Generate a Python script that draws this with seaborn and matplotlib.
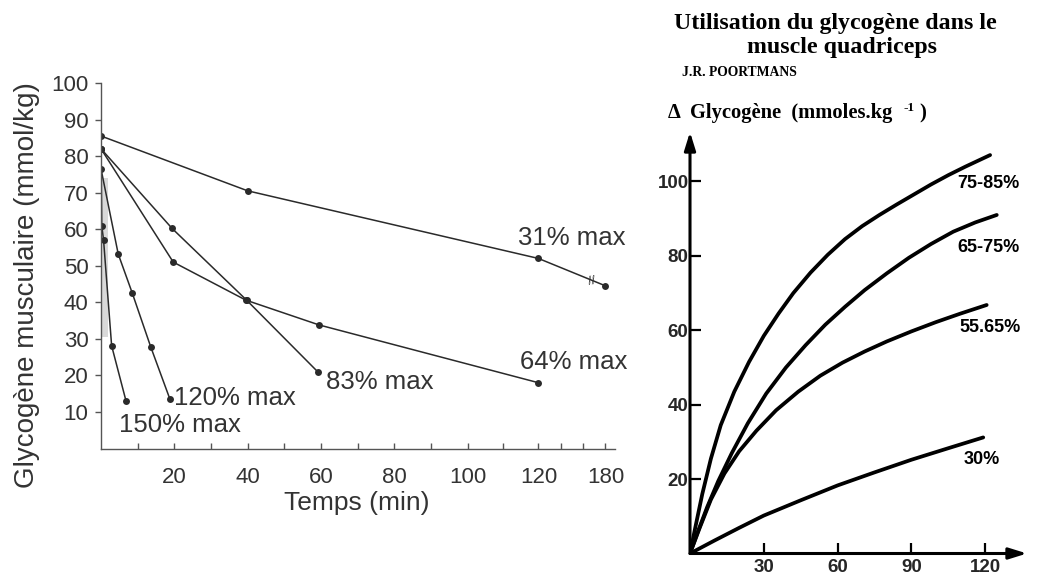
import numpy as np
import matplotlib
matplotlib.use("Agg")
import matplotlib.pyplot as plt
import seaborn as sns

# ---------------- Left panel data (time in min, glycogen mmol/kg) ----------------
t31 = [0, 40, 120, 180]
g31 = [85.5, 70.5, 52, 44.5]
t64 = [0, 19.7, 39.5, 59.5, 120]
g64 = [82, 51, 40.6, 33.8, 18]
t83 = [0, 19.4, 39.7, 59.3]
g83 = [82, 60.2, 40.6, 20.8]
t120 = [0, 4.7, 8.5, 13.6, 18.8]
g120 = [76.5, 53.2, 42.6, 27.7, 13.5]
t150 = [0, 0.2, 0.7, 2.9, 6.8]
g150 = [82, 61, 57, 28.1, 13.1]
left_labels = ["31% max", "64% max", "83% max", "120% max", "150% max"]
shade_t = [0, 1.9]
shade_lo = [30.5, 30.5]
shade_hi = [74, 74]
left_xticks = [20, 40, 60, 80, 100, 120, 180]
left_minor = [10, 30, 50, 70, 90, 110, 140, 160]
left_yticks = [10, 20, 30, 40, 50, 60, 70, 80, 90, 100]

# ---------------- Right panel data (time in min, delta glycogen) ----------------
tA = [0, 2, 5, 8.5, 12.5, 18, 24, 30, 36, 42, 49, 56, 63, 70, 77, 84, 91, 98, 105, 112, 122]
gA = [0, 6.5, 16, 25.5, 34.5, 43.5, 51.5, 58.5, 64.5, 70, 75.5, 80.3, 84.5, 88, 91, 93.8,
      96.5, 99.2, 101.7, 104, 107.1]
tB = [0, 3, 7, 11.5, 17, 23.5, 31, 39, 47, 55, 63, 71, 80, 89, 98, 107, 116, 124.7]
gB = [0, 5.5, 12.5, 19.5, 27, 35, 43, 50, 56, 61.5, 66.3, 70.8, 75.3, 79.5, 83.2, 86.5, 89, 91]
tC = [0, 4, 8.5, 14, 20, 27, 35, 44, 53, 62, 71, 80, 90, 100, 110, 120.6]
gC = [0, 7, 14.5, 21.5, 27.5, 33, 38.5, 43.5, 47.8, 51.3, 54.3, 57, 59.7, 62.2, 64.5, 66.8]
tD = [0, 10, 20, 30, 45, 60, 75, 90, 105, 119.2]
gD = [0, 3.5, 6.9, 10.2, 14.3, 18.3, 21.8, 25.2, 28.3, 31.2]
right_labels = ["75-85%", "65-75%", "55.65%", "30%"]
right_xticks = [30, 60, 90, 120]
right_yticks = [20, 40, 60, 80, 100]

sns.set_theme(style="white")
plt.rcParams["font.family"] = ["Liberation Sans", "DejaVu Sans"]

W, H = 1037, 577
fig = plt.figure(figsize=(W / 100, H / 100), dpi=100)
fig.patch.set_facecolor("white")


def ftext(x, y, s, **kw):
    fig.text(x / W, 1 - y / H, s, **kw)


def ax_rect(l, t, r, b):
    return [l / W, 1 - b / H, (r - l) / W, (b - t) / H]


# ---------------- Left panel ----------------
axL = fig.add_axes(ax_rect(101, 83, 615, 448.5))
knots_t = np.array([-100, 0, 105, 120, 180, 300])
knots_p = np.array([-100, 0, 105, 119.3, 137.6, 174.2])


def fwd(t):
    return np.interp(t, knots_t, knots_p)


def inv(p):
    return np.interp(p, knots_p, knots_t)


axL.set_xscale("function", functions=(fwd, inv))
ink = "#2a2a2a"
axL.fill_between(shade_t, shade_lo, shade_hi, color="#d9d9d9", lw=0)
for t, g in [(t31, g31), (t64, g64), (t83, g83), (t120, g120), (t150, g150)]:
    sns.lineplot(x=t, y=g, ax=axL, color=ink, lw=1.1, marker="o", markersize=5,
                 markeredgewidth=0, sort=False, estimator=None)
axL.set_xlim(0, 188.5)
axL.set_ylim(0, 100)
axL.set_xticks(left_xticks)
axL.set_xticklabels([str(v) for v in left_xticks])
axL.set_xticks(left_minor, minor=True)
axL.set_yticks(left_yticks)
axL.set_yticklabels([str(v) for v in left_yticks])
for s in ["top", "right"]:
    axL.spines[s].set_visible(False)
for s in ["left", "bottom"]:
    axL.spines[s].set_color("#555555")
    axL.spines[s].set_linewidth(1.0)
axL.tick_params(axis="x", which="both", direction="in", length=4, width=1,
                color="#555555", pad=13, labelsize=16, labelcolor="#333333", bottom=True)
axL.tick_params(axis="y", direction="out", length=4, width=1, color="#555555",
                pad=5, labelsize=16, labelcolor="#333333", left=True)
axL.set_xlabel("")
axL.set_ylabel("")
axL.grid(False)
axL.text(167.5, 45.6, "//", fontsize=9, color=ink, ha="center", va="center", rotation=10)

ftext(27, 285, "Glycogène musculaire (mmol/kg)", rotation=90, ha="center", va="center",
      fontsize=20, color="#333333")
ftext(357, 503, "Temps (min)", ha="center", va="center", fontsize=19, color="#333333")
left_pos = [(572, 238), (574, 362), (380, 382), (235, 398), (180, 425)]
for lab, (x, y) in zip(left_labels, left_pos):
    ftext(x, y, lab, ha="center", va="center", fontsize=18.5, color="#333333")

# ---------------- Right panel ----------------
axR = fig.add_axes(ax_rect(690, 132, 1027, 553.5))
for t, g in [(tA, gA), (tB, gB), (tC, gC), (tD, gD)]:
    sns.lineplot(x=t, y=g, ax=axR, color="black", lw=2.7, sort=False, estimator=None)
for line in axR.get_lines():
    line.set_solid_joinstyle("round")
    line.set_solid_capstyle("round")
axR.set_xlim(0, 137)
axR.set_ylim(0, 113.3)
axR.set_xticks(right_xticks)
axR.set_xticklabels([str(v) for v in right_xticks])
axR.set_yticks(right_yticks)
axR.set_yticklabels([str(v) for v in right_yticks])
for s in ["top", "right", "left", "bottom"]:
    axR.spines[s].set_visible(False)
axR.tick_params(axis="x", direction="in", length=8, width=1.6, color="black", pad=4,
                labelsize=13.5, bottom=True)
axR.tick_params(axis="y", direction="in", length=8, width=1.6, color="black", pad=1,
                labelsize=13.5, left=True)
for lab in axR.get_xticklabels() + axR.get_yticklabels():
    lab.set_fontweight("bold")
axR.set_xlabel("")
axR.set_ylabel("")
axR.grid(False)
arrow = dict(arrowstyle="-|>,head_length=0.9,head_width=0.28", color="black", lw=2.2,
             shrinkA=0, shrinkB=0)
axR.annotate("", xy=(0, 1), xytext=(0, 0), xycoords="axes fraction",
             textcoords="axes fraction", arrowprops=arrow, annotation_clip=False)
axR.annotate("", xy=(1, 0), xytext=(0, 0), xycoords="axes fraction",
             textcoords="axes fraction", arrowprops=arrow, annotation_clip=False)

right_pos = [(988, 183), (988, 248), (990, 328), (982, 460)]
for lab, (x, y) in zip(right_labels, right_pos):
    ftext(x, y, lab, ha="center", va="center", fontsize=13, fontweight="bold", color="black")

serif = ["Liberation Serif", "DejaVu Serif"]
ftext(835, 24, "Utilisation du glycogène dans le", ha="center", va="center",
      fontsize=17.2, fontweight="bold", family=serif, color="black")
ftext(842, 47, "muscle quadriceps", ha="center", va="center",
      fontsize=17.2, fontweight="bold", family=serif, color="black")
ftext(682, 72, "J.R. POORTMANS", ha="left", va="center", fontsize=9.8,
      fontweight="bold", family=serif, color="black")
ftext(668, 113, "Δ  Glycogène  (mmoles.kg", ha="left", va="center", fontsize=14.8,
      fontweight="bold", family=serif, color="black")
ftext(904, 108, "-1", ha="left", va="center", fontsize=9.5, fontweight="bold",
      family=serif, color="black")
ftext(919, 113, ")", ha="left", va="center", fontsize=14.8, fontweight="bold",
      family=serif, color="black")

fig.savefig("out.png", dpi=100, facecolor="white")
